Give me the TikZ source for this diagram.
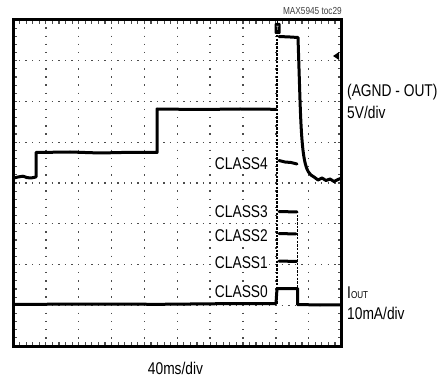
\documentclass[tikz,border=0pt]{standalone}
\usepackage{fontspec}
\newfontfamily\nar[FakeStretch=0.81]{Liberation Sans}
\begin{document}
\begin{tikzpicture}[x=1pt,y=-1pt,
  hgrid/.style={draw=black!70, line width=1.4pt, dash pattern=on 1.4pt off 5.17pt, dash phase=0.7pt},
  vgrid/.style={draw=black!70, line width=1.4pt, dash pattern=on 1.4pt off 6.75pt, dash phase=0.7pt},
  tick/.style={draw=black!70, line width=1.2pt},
  frame/.style={draw=black, line width=3pt},
  trace/.style={draw=black, line width=3pt, line join=round, line cap=round},
  thin trace/.style={draw=black, line width=1.1pt, dash pattern=on 2.5pt off 1.2pt},
  lbl/.style={font=\nar\fontsize{17}{20}\selectfont, inner sep=0pt},
  cls/.style={lbl, fill=white, inner sep=1pt, anchor=base east}]
\useasboundingbox (0,0) rectangle (444,379);
% grid
\foreach \j in {1,...,7} \draw[hgrid] (13,{20+\j*40.75}) -- (341.5,{20+\j*40.75});
\foreach \i in {1,...,9} \draw[vgrid] ({13+\i*32.85},20) -- ({13+\i*32.85},346);
% frame ticks
\foreach \k in {1,...,49} {
  \draw[tick] ({13+\k*6.57},20) -- ({13+\k*6.57},24);
  \draw[tick] ({13+\k*6.57},346) -- ({13+\k*6.57},342);
}
\foreach \k in {1,...,39} {
  \draw[tick] (13,{20+\k*8.15}) -- (17,{20+\k*8.15});
  \draw[tick] (341.5,{20+\k*8.15}) -- (337.5,{20+\k*8.15});
}
\draw[frame] (13,20) rectangle (341.5,346);
% fast transition lines
\draw[thin trace] (277,35) -- (277,305);
\draw[thin trace] (297.5,211) -- (297.5,305);
% voltage trace
\draw[trace] (14,178) -- (18,177) -- (23,176.2) -- (27,177.6) -- (31,178) -- (36,177) -- (36,152.5) -- (70,152) -- (100,153) -- (130,152.3) -- (157,152.5) -- (157,109) -- (200,109.5) -- (240,109) -- (276,109.3);
\draw[trace] (279,36.5) -- (290,37) -- (298,37.5) -- (300,100) .. controls (302,160) and (305,173) .. (314,177) -- (318,180) -- (322,178) -- (326,180.5) -- (330,179) -- (334,181.5) -- (338,179.5) -- (340.5,178.5);
% class levels
\draw[trace] (279,160.5) -- (285,162) -- (291,162.5) -- (297,164);
\draw[trace] (279,211.5) -- (297,212);
\draw[trace] (279,233.5) -- (296,234);
\draw[trace] (279,261) -- (296.5,261.5);
% current trace
\draw[trace] (14,304.5) -- (80,304) -- (160,304.3) -- (240,303.5) -- (276,303.5) -- (277,288.5) -- (297.5,288.5) -- (297.5,304.5) -- (320,305) -- (340.5,304.8);
% trigger marker
\draw[line width=1pt] (277.5,20) -- (277.5,23);
\node[fill=black, rounded corners=1pt, minimum width=6pt, minimum height=11pt, inner sep=0pt, text=white, font=\nar\fontsize{6}{6}\selectfont] (trig) at (277.5,28.5) {T};
% ground marker
\fill (333,56) -- (339,52) -- (339,60) -- cycle;
% class labels
\node[cls] (c4) at (269,170) {CLASS4};
\node[cls] (c3) at (269,218) {CLASS3};
\node[cls] (c2) at (269,241) {CLASS2};
\node[cls] (c1) at (269,269) {CLASS1};
\node[cls] (c0) at (269,297) {CLASS0};
% right labels
\node[lbl, anchor=base west] (agnd) at (347,97) {(AGND - OUT)};
\node[lbl, anchor=base west] (vdiv) at (347,119) {5V/div};
\node[lbl, anchor=base west] (iout) at (347,298) {I{\fontsize{10}{12}\selectfont OUT}};
\node[lbl, anchor=base west] (idiv) at (347,319) {10mA/div};
\node[lbl, anchor=base] (tdiv) at (175.5,374) {40ms/div};
\node[inner sep=0pt, anchor=base east, text=black!75, font=\nar\fontsize{10.2}{12}\selectfont] (ref) at (342,15) {MAX5945 toc29};
\end{tikzpicture}
\end{document}
